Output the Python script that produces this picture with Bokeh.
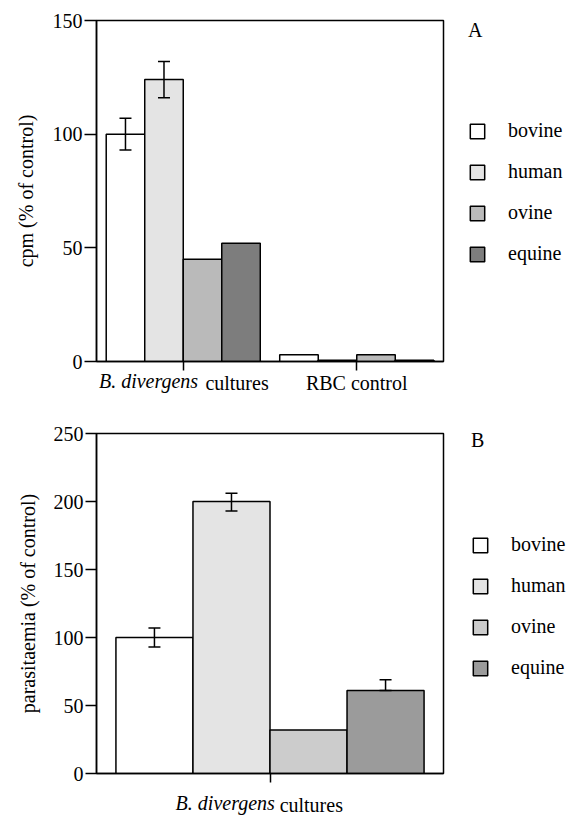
import numpy as np
from bokeh.plotting import figure
from bokeh.models import (Range1d, FixedTicker, Legend, LegendItem, LinearAxis,
                          Whisker, TeeHead, ColumnDataSource)
from bokeh.layouts import column
from bokeh.embed import file_html
from bokeh.resources import INLINE

FONT = "Liberation Serif"
species = ["bovine", "human", "ovine", "equine"]

# ---------- Panel A data ----------
groups_a = ["B. divergens cultures", "RBC control"]
bovine_a = [100, 3]
human_a = [124, 0.6]
ovine_a = [45, 3]
equine_a = [52, 0.6]
err_up_a = {"bovine": [7, 0], "human": [8, 0], "ovine": [0, 0], "equine": [0, 0]}
err_lo_a = {"bovine": [7, 0], "human": [8, 0], "ovine": [0, 0], "equine": [0, 0]}
yticks_a = [0, 50, 100, 150]
colors_a = ["#ffffff", "#e4e4e4", "#bababa", "#7d7d7d"]

# ---------- Panel B data ----------
groups_b = ["B. divergens cultures"]
bovine_b = [100]
human_b = [200]
ovine_b = [32]
equine_b = [61]
err_up_b = {"bovine": [7], "human": [6], "ovine": [0], "equine": [8]}
err_lo_b = {"bovine": [7], "human": [7], "ovine": [0], "equine": [0]}
yticks_b = [0, 50, 100, 150, 200, 250]
colors_b = ["#ffffff", "#e4e4e4", "#cccccc", "#9b9b9b"]

BAR_W = 0.222
OFFSETS = [-0.333, -0.111, 0.111, 0.333]
LABEL_H = 23  # measured height of a 20px label line, used to stack two label rows


def label_axis(p, ticks, labels, italic, standoff):
    ax = LinearAxis(ticker=FixedTicker(ticks=ticks, minor_ticks=[]),
                    major_label_overrides={t: l for t, l in zip(ticks, labels)},
                    axis_line_color=None, major_tick_line_color=None,
                    minor_tick_line_color=None, major_tick_out=0,
                    major_tick_in=0, minor_tick_out=0, minor_tick_in=0,
                    major_label_standoff=standoff,
                    major_label_text_font=FONT,
                    major_label_text_font_size="20px",
                    major_label_text_font_style="italic" if italic else "normal",
                    major_label_text_color="black")
    p.add_layout(ax, "below")


def make_panel(groups, series, err_up, err_lo, colors, yticks, ylabel,
               frame_h, borders, legend_loc, tick_out, lab_std, letter,
               title_std, ital_off, cult_off, xlab_std):
    n = len(groups)
    pos = np.arange(1, n + 1, dtype=float)
    p = figure(frame_width=347, frame_height=frame_h,
               min_border_left=borders[0], min_border_right=borders[1],
               min_border_top=borders[2], min_border_bottom=borders[3],
               x_range=Range1d(0.5, n + 0.5), y_range=Range1d(0, yticks[-1]),
               output_backend="svg", toolbar_location=None, tools="")
    p.grid.visible = False
    p.outline_line_color = "black"
    p.outline_line_width = 1.5
    p.outline_line_alpha = 1.0

    ya = p.yaxis[0]
    ya.ticker = FixedTicker(ticks=yticks, minor_ticks=[])
    ya.major_tick_out = tick_out
    ya.major_tick_in = 0
    ya.minor_tick_out = 0
    ya.minor_tick_in = 0
    ya.major_label_text_font = FONT
    ya.major_label_text_font_size = "20px"
    ya.major_label_text_color = "black"
    ya.major_label_standoff = 2
    ya.axis_label = ylabel
    ya.axis_label_text_font = FONT
    ya.axis_label_text_font_size = "20px"
    ya.axis_label_text_font_style = "normal"
    ya.axis_label_text_color = "black"
    ya.axis_label_standoff = lab_std
    ya.axis_line_width = 1.5
    ya.major_tick_line_width = 1.5

    xa = p.xaxis[0]
    xa.ticker = FixedTicker(ticks=list(pos), minor_ticks=[])
    xa.major_label_overrides = {float(t): "" for t in pos}
    xa.major_label_text_font_size = "0px"
    xa.major_label_standoff = 0
    xa.major_tick_out = 9
    xa.major_tick_in = 0
    xa.minor_tick_out = 0
    xa.axis_line_width = 1.5
    xa.major_tick_line_width = 1.5
    xa.major_tick_line_color = "black"

    # category labels (italic genus name + plain text), two rows stacked onto one line
    ital_t, ital_l, norm_t, norm_l = [], [], [], []
    for i, g in enumerate(groups):
        if g.startswith("B. divergens"):
            ital_t.append(float(pos[i] + ital_off))
            ital_l.append("B. divergens")
            norm_t.append(float(pos[i] + cult_off))
            norm_l.append(g[len("B. divergens "):])
        else:
            norm_t.append(float(pos[i]))
            norm_l.append(g)
    label_axis(p, ital_t, ital_l, True, xlab_std)
    label_axis(p, norm_t, norm_l, False, -LABEL_H)

    items = []
    for k, (name, vals) in enumerate(zip(species, series)):
        r = p.vbar(x=pos + OFFSETS[k], top=vals, bottom=0, width=BAR_W,
                   fill_color=colors[k], line_color="black", line_width=1.5)
        items.append(LegendItem(label=name, renderers=[r]))
        up = np.array(err_up[name], dtype=float)
        lo = np.array(err_lo[name], dtype=float)
        v = np.array(vals, dtype=float)
        m = (up > 0) | (lo > 0)
        if m.any():
            src = ColumnDataSource(dict(x=(pos + OFFSETS[k])[m],
                                        upper=(v + up)[m], lower=(v - lo)[m]))
            w = Whisker(source=src, base="x", upper="upper", lower="lower",
                        level="annotation",
                        line_color="black", line_width=1.5,
                        upper_head=TeeHead(size=12, line_width=1.5, line_color="black"),
                        lower_head=TeeHead(size=12, line_width=1.5, line_color="black"))
            p.add_layout(w)

    leg = Legend(items=items, location=legend_loc, orientation="vertical",
                 glyph_width=18, glyph_height=18, label_standoff=22,
                 spacing=18, padding=0, margin=0, label_height=18,
                 border_line_color=None, background_fill_alpha=0,
                 label_text_font=FONT, label_text_font_size="20px",
                 label_text_color="black",
                 title=letter, title_text_font=FONT, title_text_font_size="20px",
                 title_text_font_style="normal", title_text_color="black",
                 title_standoff=title_std)
    p.add_layout(leg, "right")
    return p


# ---------- Panel A ----------
pA = make_panel(groups_a, [bovine_a, human_a, ovine_a, equine_a],
                err_up_a, err_lo_a, colors_a, yticks_a,
                "cpm (% of control)", 341, (96, 126, 20, 47),
                (25, 96), 12, 13, "A", 77, -0.2, 0.31, -1)

# ---------- Panel B ----------
pB = make_panel(groups_b, [bovine_b, human_b, ovine_b, equine_b],
                err_up_b, err_lo_b, colors_b, yticks_b,
                "parasitaemia (% of control)", 340, (93, 129, 25, 45),
                (28, 94), 11, 12, "B", 81, -0.129, 0.119, 9)

layout = column(pA, pB)
open("out.html", "w").write(file_html(layout, INLINE))
